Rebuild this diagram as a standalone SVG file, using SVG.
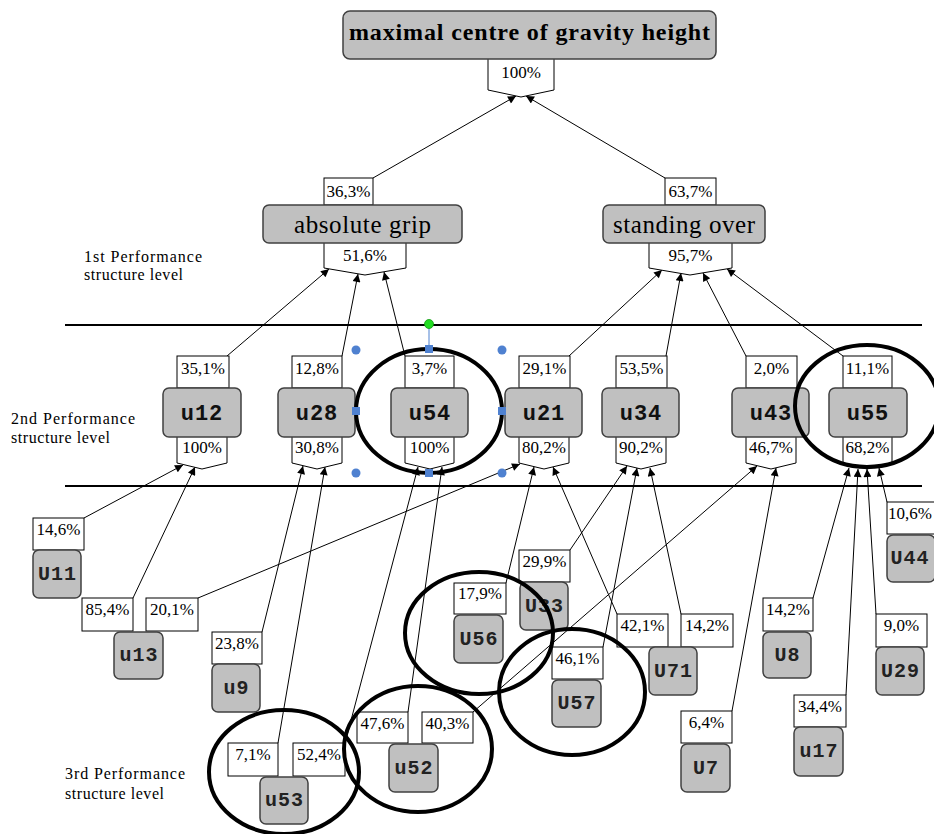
<svg xmlns="http://www.w3.org/2000/svg" width="934" height="834" viewBox="0 0 934 834">
<defs>
<marker id="ah" viewBox="0 0 10 10" refX="10" refY="5" markerWidth="11" markerHeight="8" markerUnits="userSpaceOnUse" orient="auto"><path d="M0,0 L10,5 L0,10 z" fill="#000"/></marker>
<style>
.box{fill:#c0c0c0;stroke:#404040;stroke-width:1.5}
.lbl{fill:#fff;stroke:#000;stroke-width:1}
.pct{font-family:"Liberation Serif",serif;font-size:17px;text-anchor:middle;fill:#000}
.n2{font-family:"Liberation Mono",monospace;font-weight:bold;font-size:22px;text-anchor:middle;fill:#111;letter-spacing:1px}
.n3{font-family:"Liberation Mono",monospace;font-weight:bold;font-size:20px;text-anchor:middle;fill:#222;letter-spacing:1px}
.lvl{font-family:"Liberation Serif",serif;font-size:16px;fill:#000}
.ring{fill:none;stroke:#000;stroke-width:4}
.sep{stroke:#000;stroke-width:2}
#connectors line{stroke:#000;stroke-width:1;marker-end:url(#ah)}
.hc{fill:#4f81d0}
</style>
</defs>
<rect width="934" height="834" fill="#fff"/>

<line class="sep" x1="65" y1="325" x2="922" y2="325"/>
<line class="sep" x1="65" y1="486" x2="922" y2="486"/>

<g id="level-labels">
<text class="lvl" x="84" y="262" textLength="118">1st Performance</text>
<text class="lvl" x="84" y="280" textLength="99">structure level</text>
<text class="lvl" x="11" y="424" textLength="124">2nd Performance</text>
<text class="lvl" x="11" y="443" textLength="99">structure level</text>
<text class="lvl" x="65" y="779" textLength="120">3rd Performance</text>
<text class="lvl" x="65" y="799" textLength="99">structure level</text>
</g>

<g id="connectors">
<line x1="373" y1="178" x2="516" y2="96"/>
<line x1="665" y1="178" x2="526" y2="96"/>
<line x1="227" y1="356" x2="329" y2="269"/>
<line x1="342" y1="356" x2="358" y2="274"/>
<line x1="405" y1="356" x2="384" y2="272"/>
<line x1="569" y1="356" x2="662" y2="270"/>
<line x1="666" y1="356" x2="681" y2="273"/>
<line x1="746" y1="356" x2="703" y2="273"/>
<line x1="843" y1="356" x2="727" y2="269"/>
<line x1="84" y1="518" x2="183" y2="465"/>
<line x1="133" y1="598" x2="195" y2="467"/>
<line x1="262" y1="632" x2="303" y2="466"/>
<line x1="278" y1="743" x2="325" y2="467"/>
<line x1="345" y1="743" x2="418" y2="467"/>
<line x1="408" y1="712" x2="442" y2="467"/>
<line x1="198" y1="598" x2="520" y2="464"/>
<line x1="506" y1="583" x2="534" y2="467"/>
<line x1="617" y1="614" x2="553" y2="467"/>
<line x1="570" y1="550" x2="627" y2="466"/>
<line x1="603" y1="647" x2="637" y2="468"/>
<line x1="681" y1="614" x2="650" y2="468"/>
<line x1="473" y1="712" x2="757" y2="466"/>
<line x1="732" y1="711" x2="776" y2="468"/>
<line x1="813" y1="598" x2="849" y2="468"/>
<line x1="846" y1="695" x2="858" y2="469"/>
<line x1="876" y1="614" x2="867" y2="469"/>
<line x1="887" y1="502" x2="879" y2="468"/>
</g>

<g id="top">
<path class="lbl" d="M488,55 V90 L521,97 L554,90 V55"/>
<text class="pct" x="521" y="78">100%</text>
<rect class="box" x="343" y="11" width="373" height="48" rx="7"/>
<text x="529.5" y="40" text-anchor="middle" textLength="361" font-family="'Liberation Serif',serif" font-weight="bold" font-size="24" fill="#000">maximal centre of gravity height</text>
</g>

<g id="absolute-grip">
<rect class="lbl" x="324" y="178" width="49" height="27"/>
<text class="pct" x="348.5" y="197">36,3%</text>
<path class="lbl" d="M324,240 V268 L365,275 L406,268 V240"/>
<text class="pct" x="365" y="261">51,6%</text>
<rect class="box" x="263" y="205" width="199" height="38" rx="6"/>
<text x="362.5" y="233" text-anchor="middle" textLength="137" font-family="'Liberation Serif',serif" font-size="25" fill="#000">absolute grip</text>
</g>

<g id="standing-over">
<rect class="lbl" x="665" y="178" width="51" height="27"/>
<text class="pct" x="690.5" y="197">63,7%</text>
<path class="lbl" d="M649,240 V268 L690,275 L732,268 V240"/>
<text class="pct" x="690.5" y="261">95,7%</text>
<rect class="box" x="603" y="205" width="162" height="38" rx="6"/>
<text x="684" y="233" text-anchor="middle" textLength="142" font-family="'Liberation Serif',serif" font-size="25" fill="#000">standing over</text>
</g>

<g id="u12">
<rect class="lbl" x="177" y="356" width="52" height="32"/>
<text class="pct" x="203" y="374">35,1%</text>
<path class="lbl" d="M177,432 V463 L202,469 L227,463 V432"/>
<text class="pct" x="202" y="453">100%</text>
<rect class="box" x="163" y="388" width="78" height="49" rx="6"/>
<text class="n2" x="202" y="420">u12</text>
</g>
<g id="u28">
<rect class="lbl" x="292" y="356" width="50" height="32"/>
<text class="pct" x="317" y="374">12,8%</text>
<path class="lbl" d="M292,432 V463 L317,469 L342,463 V432"/>
<text class="pct" x="317" y="453">30,8%</text>
<rect class="box" x="278" y="388" width="77" height="49" rx="6"/>
<text class="n2" x="317" y="420">u28</text>
</g>
<g id="u54">
<rect class="lbl" x="405" y="356" width="49" height="32"/>
<text class="pct" x="429.5" y="374">3,7%</text>
<path class="lbl" d="M405,432 V463 L430,469 L454,463 V432"/>
<text class="pct" x="429.5" y="453">100%</text>
<rect class="box" x="391" y="388" width="77" height="49" rx="6"/>
<text class="n2" x="430" y="420">u54</text>
</g>
<g id="u21">
<rect class="lbl" x="519" y="356" width="51" height="32"/>
<text class="pct" x="544.5" y="374">29,1%</text>
<path class="lbl" d="M519,432 V463 L544,469 L569,463 V432"/>
<text class="pct" x="544" y="453">80,2%</text>
<rect class="box" x="505" y="388" width="77" height="49" rx="6"/>
<text class="n2" x="544" y="420">u21</text>
</g>
<g id="u34">
<rect class="lbl" x="616" y="356" width="51" height="32"/>
<text class="pct" x="641.5" y="374">53,5%</text>
<path class="lbl" d="M616,432 V463 L641,469 L666,463 V432"/>
<text class="pct" x="641" y="453">90,2%</text>
<rect class="box" x="602" y="388" width="77" height="49" rx="6"/>
<text class="n2" x="641" y="420">u34</text>
</g>
<g id="u43">
<rect class="lbl" x="746" y="356" width="51" height="32"/>
<text class="pct" x="771.5" y="374">2,0%</text>
<path class="lbl" d="M746,432 V463 L771,469 L796,463 V432"/>
<text class="pct" x="771" y="453">46,7%</text>
<rect class="box" x="732" y="388" width="77" height="49" rx="6"/>
<text class="n2" x="771" y="420">u43</text>
</g>
<g id="u55">
<rect class="lbl" x="843" y="356" width="49" height="32"/>
<text class="pct" x="867.5" y="374">11,1%</text>
<path class="lbl" d="M843,432 V463 L867,469 L892,463 V432"/>
<text class="pct" x="867.5" y="453">68,2%</text>
<rect class="box" x="829" y="388" width="78" height="49" rx="6"/>
<text class="n2" x="868" y="420">u55</text>
</g>

<g id="U11">
<rect class="lbl" x="33" y="518" width="51" height="32"/>
<text class="pct" x="58.5" y="535">14,6%</text>
<rect class="box" x="33" y="550" width="48" height="48" rx="6"/>
<text class="n3" x="57.5" y="580">U11</text>
</g>
<g id="u13">
<rect class="lbl" x="82" y="598" width="51" height="33"/>
<text class="pct" x="107.5" y="615">85,4%</text>
<rect class="lbl" x="146" y="598" width="52" height="33"/>
<text class="pct" x="172" y="615">20,1%</text>
<rect class="box" x="114" y="632" width="49" height="47" rx="6"/>
<text class="n3" x="139" y="661">u13</text>
</g>
<g id="u9">
<rect class="lbl" x="212" y="632" width="50" height="32"/>
<text class="pct" x="237" y="649">23,8%</text>
<rect class="box" x="212" y="664" width="48" height="48" rx="6"/>
<text class="n3" x="236.5" y="694">u9</text>
</g>
<g id="U33">
<rect class="lbl" x="519" y="550" width="51" height="32"/>
<text class="pct" x="544.5" y="567">29,9%</text>
<rect class="box" x="520" y="582" width="48" height="48" rx="6"/>
<text class="n3" x="544.5" y="612">U33</text>
</g>
<g id="U56">
<rect class="lbl" x="454" y="583" width="52" height="31"/>
<text class="pct" x="480" y="599">17,9%</text>
<rect class="box" x="454" y="615" width="49" height="48" rx="6"/>
<text class="n3" x="479" y="645">U56</text>
</g>
<g id="U71">
<rect class="lbl" x="617" y="614" width="51" height="33"/>
<text class="pct" x="642.5" y="631">42,1%</text>
<rect class="lbl" x="681" y="614" width="52" height="33"/>
<text class="pct" x="707" y="631">14,2%</text>
<rect class="box" x="649" y="647" width="48" height="48" rx="6"/>
<text class="n3" x="673.5" y="677">U71</text>
</g>
<g id="U57">
<rect class="lbl" x="552" y="647" width="51" height="32"/>
<text class="pct" x="577.5" y="664">46,1%</text>
<rect class="box" x="552" y="680" width="49" height="47" rx="6"/>
<text class="n3" x="577" y="709">U57</text>
</g>
<g id="U8">
<rect class="lbl" x="763" y="598" width="50" height="33"/>
<text class="pct" x="788" y="615">14,2%</text>
<rect class="box" x="763" y="632" width="48" height="46" rx="6"/>
<text class="n3" x="787.5" y="661">U8</text>
</g>
<g id="U29">
<rect class="lbl" x="876" y="614" width="51" height="33"/>
<text class="pct" x="901.5" y="631">9,0%</text>
<rect class="box" x="876" y="647" width="48" height="48" rx="6"/>
<text class="n3" x="900.5" y="677">U29</text>
</g>
<g id="U44">
<rect class="lbl" x="887" y="502" width="51" height="32"/>
<text class="pct" x="910" y="519">10,6%</text>
<rect class="box" x="887" y="535" width="48" height="47" rx="6"/>
<text class="n3" x="910" y="564">U44</text>
</g>
<g id="U7">
<rect class="lbl" x="681" y="711" width="51" height="32"/>
<text class="pct" x="706.5" y="728">6,4%</text>
<rect class="box" x="681" y="744" width="49" height="48" rx="6"/>
<text class="n3" x="706" y="774">U7</text>
</g>
<g id="u17">
<rect class="lbl" x="794" y="695" width="52" height="32"/>
<text class="pct" x="820" y="712">34,4%</text>
<rect class="box" x="794" y="727" width="49" height="49" rx="6"/>
<text class="n3" x="819" y="757">u17</text>
</g>
<g id="u52">
<rect class="lbl" x="357" y="712" width="51" height="31"/>
<text class="pct" x="382.5" y="729">47,6%</text>
<rect class="lbl" x="422" y="712" width="51" height="31"/>
<text class="pct" x="447.5" y="729">40,3%</text>
<rect class="box" x="389" y="744" width="49" height="48" rx="6"/>
<text class="n3" x="414" y="774">u52</text>
</g>
<g id="u53">
<rect class="lbl" x="228" y="743" width="50" height="33"/>
<text class="pct" x="253" y="760">7,1%</text>
<rect class="lbl" x="293" y="743" width="52" height="33"/>
<text class="pct" x="319" y="760">52,4%</text>
<rect class="box" x="260" y="777" width="48" height="47" rx="6"/>
<text class="n3" x="284.5" y="806">u53</text>
</g>

<g id="rings">
<ellipse class="ring" cx="429" cy="411" rx="73" ry="62"/>
<ellipse class="ring" cx="867" cy="406" rx="72" ry="61"/>
<ellipse class="ring" cx="479" cy="633" rx="74" ry="61"/>
<ellipse class="ring" cx="572" cy="692" rx="73" ry="63"/>
<ellipse class="ring" cx="418" cy="749" rx="74" ry="63"/>
<ellipse class="ring" cx="284" cy="772" rx="75" ry="62"/>
</g>

<g id="handles">
<line x1="429" y1="328" x2="429" y2="345" stroke="#4f81d0" stroke-width="1"/>
<circle cx="429" cy="324" r="4.5" fill="#22dd22" stroke="#119911" stroke-width="0.8"/>
<circle class="hc" cx="356" cy="350" r="4.5"/>
<circle class="hc" cx="502" cy="350" r="4.5"/>
<circle class="hc" cx="356" cy="473" r="4.5"/>
<circle class="hc" cx="502" cy="473" r="4.5"/>
<rect class="hc" x="425" y="345" width="8" height="8"/>
<rect class="hc" x="352" y="407" width="8" height="8"/>
<rect class="hc" x="498" y="407" width="8" height="8"/>
<rect class="hc" x="425" y="469" width="8" height="8"/>
</g>
</svg>
